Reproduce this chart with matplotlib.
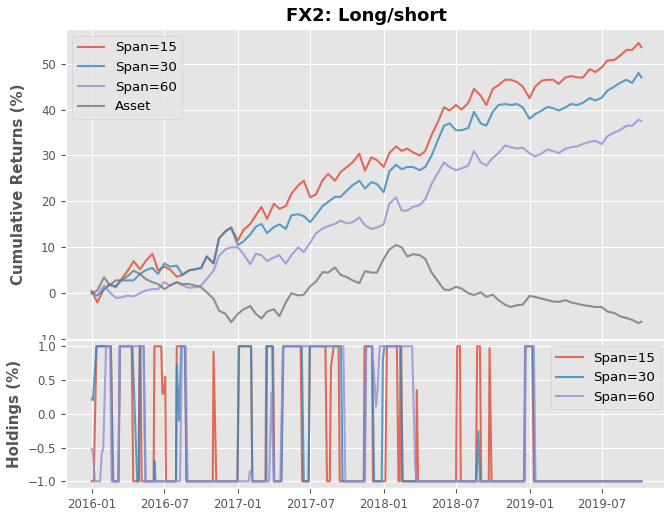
import pandas as pd
import matplotlib
matplotlib.use("Agg")
import matplotlib.pyplot as plt
import matplotlib.dates as mdates
from matplotlib.transforms import Bbox, TransformedBbox

plt.style.use("ggplot")

# sampled on the 1st and 15th of each month, last point = last trading day
start = pd.Timestamp("2016-01-01")
end = pd.Timestamp("2019-10-08")
dates = list(pd.date_range(start, "2019-10-01", freq="SMS")) + [end]

# cumulative returns (%)
span15 = [0.5, -2.0, 1.0, 1.8, 1.5, 3.0, 5.0, 7.0, 5.2, 7.0, 8.6, 5.0, 5.8, 5.2, 3.6, 4.0, 5.0, 5.2, 5.5, 8.0, 6.5, 12.0, 13.5, 14.3,
          11.5, 13.8, 15.1, 17.0, 18.8, 16.2, 19.5, 18.4, 19.0, 21.7, 23.5, 24.5, 20.9, 21.5, 24.6, 26.0, 24.5, 26.4, 27.5, 28.5, 30.4, 26.7, 29.6, 29.0,
          27.5, 30.5, 32.0, 31.0, 31.5, 30.7, 30.0, 31.0, 34.5, 37.0, 40.5, 39.8, 41.0, 40.0, 41.5, 44.5, 43.0, 41.0, 44.5, 45.3, 46.5, 46.5, 46.0, 45.0,
          42.5, 45.0, 46.3, 46.5, 46.5, 45.6, 47.0, 47.3, 47.0, 47.0, 48.8, 48.2, 49.2, 50.7, 50.8, 51.7, 53.0, 53.0, 54.5, 53.6]
span30 = [0.2, -0.5, 0.8, 2.0, 1.3, 2.8, 2.8, 2.8, 4.2, 5.0, 5.5, 4.2, 6.5, 5.8, 6.0, 4.0, 5.0, 5.2, 5.5, 8.0, 6.5, 12.0, 13.5, 14.3,
          10.5, 11.3, 12.8, 14.5, 15.1, 13.1, 14.4, 15.0, 14.0, 17.0, 17.2, 16.8, 15.5, 17.0, 19.0, 19.9, 21.0, 21.0, 22.4, 23.5, 24.5, 22.8, 24.2, 23.8,
          22.0, 26.5, 28.0, 27.0, 27.5, 27.5, 26.8, 27.5, 30.0, 33.0, 36.5, 37.0, 35.5, 35.5, 36.0, 39.5, 37.0, 36.5, 39.5, 41.0, 41.2, 41.0, 41.2, 40.5,
          38.0, 39.0, 39.8, 40.6, 40.3, 39.8, 40.5, 41.2, 41.0, 41.5, 42.5, 42.0, 42.6, 44.1, 45.0, 45.8, 46.5, 45.8, 48.0, 47.0]
span60 = [0.0, -0.5, 1.7, 0.2, -1.0, -0.9, -0.5, -0.7, 0.0, 0.6, 0.9, 0.9, 2.4, 1.7, 2.4, 1.7, 1.2, 1.3, 1.7, 3.1, 4.9, 8.2, 9.6, 10.0,
          10.0, 8.5, 6.3, 8.6, 8.3, 7.0, 7.8, 8.3, 6.4, 8.3, 10.0, 9.0, 11.0, 13.0, 14.1, 14.6, 15.1, 15.8, 15.2, 15.5, 16.5, 14.8, 14.0, 14.3,
          15.0, 19.5, 20.9, 18.0, 18.0, 18.8, 19.2, 20.5, 23.8, 26.0, 28.5, 27.5, 26.8, 27.2, 27.8, 31.0, 28.5, 27.8, 29.5, 30.5, 32.2, 31.8, 31.5, 31.7,
          30.5, 29.8, 30.5, 31.3, 31.0, 30.5, 31.5, 31.8, 32.0, 32.5, 33.0, 33.2, 32.5, 34.2, 35.0, 35.5, 36.5, 36.5, 37.8, 37.5]
asset = [0.0, 0.6, 3.5, 1.7, 2.8, 2.8, 3.8, 4.9, 4.2, 3.1, 2.4, 2.0, 0.9, 1.7, 2.4, 2.0, 2.0, 1.7, 1.3, 0.2, -1.2, -3.8, -4.5, -6.3,
         -4.5, -3.5, -2.8, -4.5, -5.5, -4.0, -3.5, -5.0, -2.0, 0.0, -0.5, -0.3, 1.5, 2.5, 4.6, 4.5, 5.6, 4.0, 3.5, 2.8, 2.2, 4.8, 4.5, 4.5,
         7.5, 9.5, 10.5, 10.0, 8.0, 8.5, 8.3, 7.5, 4.5, 2.8, 0.8, 0.7, 1.4, 1.0, 0.0, -0.4, 0.2, -0.8, -0.3, -1.5, -2.5, -3.0, -2.6, -2.5,
         -0.6, -0.8, -1.2, -1.5, -1.8, -1.9, -1.5, -2.0, -2.3, -2.6, -2.8, -3.0, -3.0, -4.0, -4.3, -5.0, -5.4, -5.8, -6.5, -6.2]

# holdings: turning points, days after 2016-01-01
h15_days = [0, 5, 12, 48, 54, 67, 71, 100, 104, 117, 120, 122, 125, 155, 157, 174, 177, 181, 184, 186,
            211, 213, 234, 237, 303, 305, 312, 365, 368, 399, 402, 435, 437, 454, 457, 474, 479, 523, 527, 543,
            546, 585, 589, 596, 599, 606, 618, 621, 681, 683, 702, 704, 735, 739, 764, 768, 771, 773, 775, 777,
            812, 814, 817, 912, 915, 922, 924, 962, 965, 972, 975, 994, 996, 1001, 1082, 1085, 1103, 1107, 1376]
h15_vals = [-1, -1, 1, 1, -1, -1, 1, 1, -1, -1, 1, 1, -1, -1, 1, 1, 0.3, 0.3, 0.55, -1,
            -1, 1, 1, -1, -1, 0.92, -1, -1, 1, 1, -1, -1, 1, 1, -1, -1, 1, 1, -1, -1,
            1, 1, -1, -1, 0.7, 1, 1, -1, -1, 1, 1, -1, -1, 1, 1, -1, -1, 1, 1, -1,
            -1, 0.35, -1, -1, 1, 1, -1, -1, 1, 1, -1, -1, 0.97, -1, -1, 1, 1, -1, -1]
h30_days = [0, 3, 12, 48, 52, 67, 70, 102, 114, 118, 121, 130, 135, 156, 157, 160, 211, 213, 219, 224,
            233, 238, 365, 369, 399, 402, 437, 439, 452, 456, 475, 480, 526, 531, 543, 546, 624, 628, 683, 687,
            702, 707, 726, 729, 733, 773, 779, 963, 968, 972, 1084, 1086, 1104, 1109, 1376]
h30_vals = [0.22, 0.2, 1, 1, -1, -1, 1, 1, -1, -1, 1, 1, -1, -1, -0.7, -1, -1, 0.72, -0.1, 1,
            1, -1, -1, 1, 1, -1, -1, 1, 1, -1, -1, 1, 1, -1, -1, 1, 1, -1, -1, 1,
            1, -1, -1, 0.8, 1, 1, -1, -1, -0.26, -1, -1, 1, 1, -1, -1]
h60_days = [0, 3, 8, 21, 25, 29, 36, 46, 50, 67, 70, 130, 134, 221, 226, 235, 240, 393, 396, 399,
            402, 444, 450, 456, 472, 479, 630, 635, 684, 687, 702, 712, 715, 721, 802, 810, 816, 1083, 1086, 1107,
            1111, 1376]
h60_vals = [-0.52, -0.6, -1, -1, -0.6, -0.5, 1, 1, -1, -1, 1, 1, -1, -1, 1, 1, -1, -1, -0.85, -0.85,
            -1, -1, 0.32, -1, -1, 1, 1, -1, -1, 1, 1, 0.11, 0.3, 1, 1, -0.8, -1, -1, 1, 1,
            -1, -1]

def to_dates(days):
    return [start + pd.Timedelta(days=d) for d in days]

fig = plt.figure(figsize=(6.64, 5.13), dpi=100)
top_box = [0.099, 0.338, 0.906, 0.605]
ax1 = fig.add_axes(top_box)
ax2 = fig.add_axes([0.099, 0.0487, 0.906, 0.2895], sharex=ax1)

ax1.plot(dates, span15, label="Span=15", alpha=0.8)
ax1.plot(dates, span30, label="Span=30", alpha=0.8)
ax1.plot(dates, span60, label="Span=60", alpha=0.8)
ax1.plot(dates, asset, label="Asset", alpha=0.8)
ax1.set_ylim(-10.1, 57.5)
ax1.set_yticks([-10, 0, 10, 20, 30, 40, 50])
ax1.set_title("FX2: Long/short", fontsize=13, fontweight="bold")
ax1.set_ylabel("Cumulative Returns (%)", fontsize=10.8, fontweight="bold")
ax1.legend(loc="upper left", fontsize=9.6)
ax1.tick_params(labelbottom=False, labelsize=8.5)

# the lower panel hides the bottom half of the "-10" label
clip = TransformedBbox(Bbox([[0, top_box[1]], [1, 1]]), fig.transFigure)
for lab in ax1.get_yticklabels():
    lab.set_clip_box(clip)
    lab.set_clip_on(True)

ax2.plot(to_dates(h15_days), h15_vals, label="Span=15", alpha=0.8)
ax2.plot(to_dates(h30_days), h30_vals, label="Span=30", alpha=0.8)
ax2.plot(to_dates(h60_days), h60_vals, label="Span=60", alpha=0.8)
ax2.set_ylabel("Holdings (%)", fontsize=10.8, fontweight="bold")
ax2.legend(loc="upper right", fontsize=9.6)
ax2.tick_params(labelsize=8.5)

ax2.set_xlim(start - pd.Timedelta(days=65), end + pd.Timedelta(days=65))
ax2.xaxis.set_major_locator(mdates.MonthLocator(bymonth=[1, 7]))
ax2.xaxis.set_major_formatter(mdates.DateFormatter("%Y-%m"))

fig.savefig("out.png", dpi=100)
